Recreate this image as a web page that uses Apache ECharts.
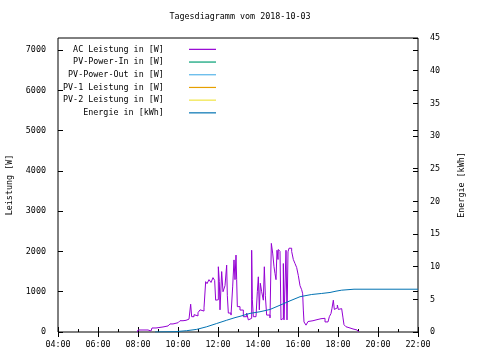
<!DOCTYPE html>
<html>
<head>
<meta charset="utf-8">
<script src="https://cdn.jsdelivr.net/npm/echarts@6/dist/echarts.min.js"></script>
<style>html,body{margin:0;padding:0;background:#fff}#c{width:480px;height:360px}</style>
</head>
<body>
<div id="c"></div>
<script>
const titleText = 'Tagesdiagramm vom 2018-10-03';
const seriesNames = ['AC Leistung in [W]', 'PV-Power-In in [W]', 'PV-Power-Out in [W]', 'PV-1 Leistung in [W]', 'PV-2 Leistung in [W]', 'Energie in [kWh]'];
const seriesColors = ['#9400d3', '#009e73', '#56b4e9', '#e69f00', '#f0e442', '#0072b2'];

const acTimes = ['07:58','08:00','08:30','08:33','08:36','08:39','08:42','08:54','09:00','09:15','09:21','09:30','09:36','09:45','09:51','10:00','10:06','10:15','10:24','10:33','10:36','10:38','10:41','10:48','10:54','11:00','11:06','11:12','11:18','11:21','11:23','11:27','11:33','11:39','11:45','11:50','11:53','11:58','12:01','12:04','12:06','12:11','12:15','12:21','12:26','12:28','12:31','12:39','12:44','12:48','12:51','12:54','12:56','12:58','13:06','13:16','13:26','13:31','13:36','13:41','13:43','13:46','13:54','13:58','14:01','14:04','14:07','14:11','14:16','14:19','14:22','14:26','14:36','14:40','14:44','14:48','14:51','14:54','14:57','15:00','15:01','15:06','15:09','15:13','15:16','15:18','15:22','15:24','15:27','15:30','15:33','15:41','15:46','15:51','15:56','16:01','16:06','16:11','16:14','16:16','16:18','16:24','16:30','16:36','16:45','16:54','17:00','17:09','17:15','17:21','17:30','17:34','17:39','17:42','17:46','17:49','17:54','17:58','18:01','18:06','18:11','18:15','18:18','18:24','18:30','18:36','18:45','18:51','18:57','19:03'];
const acWatts = [0,50,50,25,25,60,100,90,125,115,150,140,200,190,230,255,280,290,320,310,330,690,380,430,400,480,550,520,600,580,1250,1200,1300,1230,1350,1280,790,800,1620,1250,550,1500,1000,1150,1660,900,470,420,1120,1790,1300,1910,1300,630,545,380,470,300,340,2030,800,380,420,1000,1370,550,1210,1000,790,1620,900,420,350,2200,1960,1620,1450,1300,2030,1800,2050,2000,300,340,1700,300,300,2030,300,1990,2080,2000,1800,1700,1600,1400,1150,1050,950,545,250,170,260,280,300,310,330,320,340,250,220,380,460,590,790,560,600,670,560,580,545,350,180,130,100,75,60,50,25,0];

const energyTimes = ['08:51','09:51','10:26','10:56','11:26','11:56','12:26','12:51','13:06','13:36','14:06','14:36','15:06','15:36','16:06','16:21','16:41','17:11','17:36','17:54','18:11','18:48','22:00'];
const energyKWh = [0,0.05,0.2,0.4,0.8,1.3,1.8,2.2,2.4,2.85,3.1,3.45,4.1,4.77,5.4,5.55,5.74,5.9,6.05,6.25,6.4,6.55,6.55];

function toHours(s){const p=s.split(':');return +p[0]+(+p[1])/60;}
function pair(ts,vs){return ts.map((t,i)=>[toHours(t),vs[i]]);}

const FONT = 'DejaVu Sans Mono';
const FS = 8.4;
const txt = {fontFamily: FONT, fontSize: FS, color: '#000'};

const chart = echarts.init(document.getElementById('c'), null, {renderer: 'canvas'});
const series = seriesNames.map((n, i) => ({
  name: n, type: 'line', showSymbol: false, symbol: 'none',
  yAxisIndex: i === 5 ? 1 : 0,
  xAxisIndex: 0,
  lineStyle: {width: 1, color: seriesColors[i]},
  itemStyle: {color: seriesColors[i]},
  step: i === 0 ? 'end' : false,
  data: i === 0 ? pair(acTimes, acWatts) : (i === 5 ? pair(energyTimes, energyKWh) : [])
}));

chart.setOption({
  animation: false,
  backgroundColor: '#fff',
  title: {text: titleText, left: 'center', top: 13, padding: 0,
    textStyle: {fontFamily: FONT, fontSize: FS, fontWeight: 'normal', color: '#000'}},
  legend: {
    orient: 'vertical', left: 63, top: 43, padding: 0, itemGap: 0,
    align: 'right', icon: 'rect', itemWidth: 27, itemHeight: 1.2,
    formatter: n => n.padStart(20, ' ') + '    ',
    textStyle: {fontFamily: FONT, fontSize: FS, color: '#000', lineHeight: 12.7},
    data: seriesNames
  },
  grid: {left: 58, right: 62, top: 38, bottom: 28, containLabel: false, outerBoundsMode: 'none',
    show: true, borderColor: '#000', borderWidth: 1, backgroundColor: 'transparent'},
  xAxis: [{
    type: 'value', min: 4, max: 22, interval: 2, position: 'bottom',
    axisLine: {show: false},
    axisTick: {inside: true, length: 5, lineStyle: {color: '#000'}},
    minorTick: {show: true, splitNumber: 2, length: 3, lineStyle: {color: '#000'}},
    splitLine: {show: false},
    axisLabel: Object.assign({margin: 9, formatter: v => String(v).padStart(2, '0') + ':00'}, txt)
  }, {
    type: 'value', min: 4, max: 22, interval: 2, position: 'top',
    axisLine: {show: false},
    axisTick: {inside: true, length: 5, lineStyle: {color: '#000'}},
    splitLine: {show: false}, axisLabel: {show: false}
  }],
  yAxis: [{
    type: 'value', min: 0, max: 7300, interval: 1000, position: 'left',
    name: 'Leistung [W]', nameLocation: 'middle', nameGap: 44, nameRotate: 90,
    nameTextStyle: txt,
    axisLine: {show: false},
    axisTick: {inside: true, length: 5, lineStyle: {color: '#000'}},
    splitLine: {show: false},
    axisLabel: Object.assign({margin: 12, showMaxLabel: false, formatter: v => String(v)}, txt)
  }, {
    type: 'value', min: 0, max: 45, interval: 5, position: 'right',
    name: 'Energie [kWh]', nameLocation: 'middle', nameGap: 40, nameRotate: 90,
    nameTextStyle: txt,
    axisLine: {show: false},
    axisTick: {inside: true, length: 5, lineStyle: {color: '#000'}},
    splitLine: {show: false},
    axisLabel: Object.assign({margin: 12, formatter: v => String(v)}, txt)
  }, {
    type: 'value', min: 0, max: 7300, interval: 1000, position: 'right', offset: 0,
    axisLine: {show: false},
    axisTick: {inside: true, length: 5, lineStyle: {color: '#000'}},
    splitLine: {show: false}, axisLabel: {show: false}
  }],
  series: series
});
</script>
</body>
</html>
